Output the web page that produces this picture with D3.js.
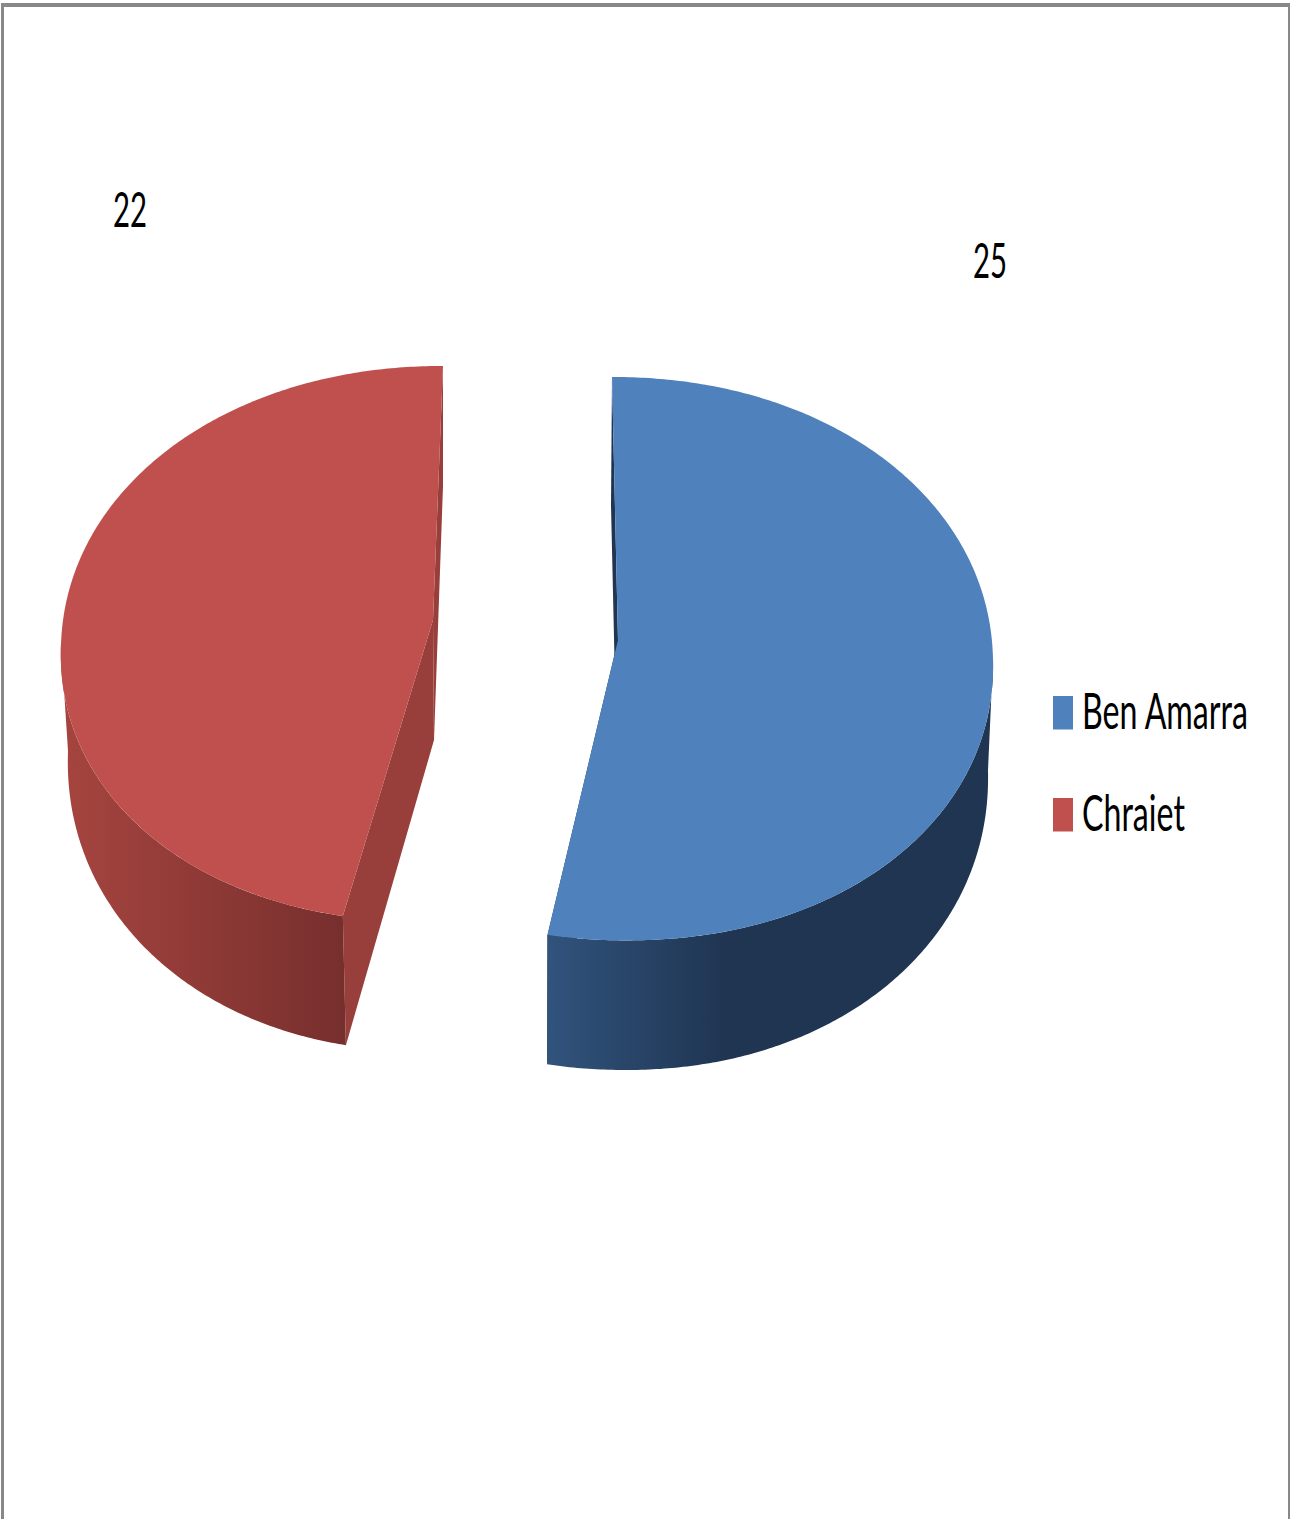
<!DOCTYPE html>
<html>
<head>
<meta charset="utf-8">
<script src="https://cdn.jsdelivr.net/npm/d3@7/dist/d3.min.js"></script>
<style>
  html, body { margin: 0; padding: 0; background: #fff; }
  svg { display: block; }
  text { font-family: Lato, "Liberation Sans", sans-serif; fill: #000; }
</style>
</head>
<body>
<svg id="chart" width="1290" height="1519"></svg>
<script>
// Values
const categories = ["Ben Amarra", "Chraiet"];
const values = [25, 22];

// Palette
const topColors = ["#4f81bd", "#c0504d"];
const sideColors = ["#1f3552", "#983e3b"];
const wallStops = [
  [[0, "#31537c"], [0.4, "#1f3552"], [1, "#1f3552"]],
  [[0, "#a5443f"], [1, "#772f2d"]]
];

// Each exploded slice has its own projected rim: upper face, lower face, and wedge tip.
// ryBack is the depth of the far half of a rim when it differs from the near half.
const rims = [
  { top: { cx: 619.2, cy: 658.7, rx: 373.8, ry: 281.7, ryBack: 281.7, shear: 7.2 },
    bottom: { cx: 618.1, cy: 770, rx: 369.9, ry: 300, ryBack: 265, shear: 7.1 },
    tipTop: [618, 640], tipBottom: [617, 770], wallX: [548, 990] },
  { top: { cx: 431.9, cy: 643.7, rx: 370.9, ry: 277.7, ryBack: 277.7, shear: -11.1 },
    bottom: { cx: 432.8, cy: 751, rx: 364.8, ry: 300, ryBack: 265, shear: -10.2 },
    tipTop: [433, 620], tipBottom: [434, 740], wallX: [68, 343] }
];
const rimPower = 0.965;

const svg = d3.select("#chart");
const defs = svg.append("defs");
const pie = d3.pie().sort(null).value(d => d);
const slices = pie(values);
const line = d3.line();
const polygon = pts => line(pts) + "Z";

// Point on a rim at a pie angle measured clockwise from the back of the disc.
function rimPoint(rim, angle) {
  const su = Math.sin(angle), sv = -Math.cos(angle);
  const u = Math.sign(su) * Math.pow(Math.abs(su), rimPower);
  const v = Math.sign(sv) * Math.pow(Math.abs(sv), rimPower);
  return [rim.cx + rim.rx * u + rim.shear * v, rim.cy + (v < 0 ? rim.ryBack : rim.ry) * v];
}
function rimArc(rim, a0, a1) {
  const n = Math.max(2, Math.ceil(Math.abs(a1 - a0) / 0.01));
  return d3.range(n + 1).map(i => rimPoint(rim, a0 + (a1 - a0) * i / n));
}

const g = svg.append("g");

slices.forEach((s, i) => {
  const rim = rims[i];
  const grad = defs.append("linearGradient")
    .attr("id", "wall" + i)
    .attr("gradientUnits", "userSpaceOnUse")
    .attr("x1", rim.wallX[0]).attr("x2", rim.wallX[1])
    .attr("y1", 0).attr("y2", 0);
  wallStops[i].forEach(st => grad.append("stop").attr("offset", st[0]).attr("stop-color", st[1]));

  const a0 = s.startAngle, a1 = s.endAngle;

  // Cut faces running from the tip out to each end of the slice
  [a0, a1].forEach(a => {
    g.append("path")
      .attr("d", polygon([rim.tipTop, rimPoint(rim.top, a), rimPoint(rim.bottom, a), rim.tipBottom]))
      .attr("fill", sideColors[i]);
  });

  // Curved outer wall along the front half of the disc
  const wa0 = Math.max(a0, Math.PI / 2), wa1 = Math.min(a1, 3 * Math.PI / 2);
  const upper = rimArc(rim.top, wa0, wa1);
  const lower = rimArc(rim.bottom, wa0, wa1).reverse();
  g.append("path")
    .attr("d", polygon(upper.concat(lower)))
    .attr("fill", `url(#wall${i})`);

  // Upper face
  g.append("path")
    .attr("d", polygon([rim.tipTop].concat(rimArc(rim.top, a0, a1))))
    .attr("fill", topColors[i]);
});

// Condensed text helper: the run is squeezed horizontally to a set width.
function label(txt, x, y, size, width) {
  const t = svg.append("text")
    .attr("font-size", size)
    .text(txt);
  const natural = t.node().getComputedTextLength();
  t.attr("transform", `translate(${x},${y}) scale(${width / natural},1)`);
}

// Value labels
const valuePos = [[973, 278, 34], [113, 227, 34]];
values.forEach((v, i) => label(String(v), valuePos[i][0], valuePos[i][1], 48, valuePos[i][2]));

// Legend
const legendY = d3.scalePoint().domain(categories).range([696, 798]);
const legendWidths = [166, 103];
categories.forEach((c, i) => {
  svg.append("rect")
    .attr("x", 1053).attr("y", legendY(c))
    .attr("width", 20).attr("height", 33.5)
    .attr("fill", topColors[i]);
  label(c, 1082, legendY(c) + 33, 50, legendWidths[i]);
});

// Chart frame: top and side edges
const frame = "#888888";
svg.append("rect").attr("x", 1).attr("y", 3).attr("width", 1289).attr("height", 4).attr("fill", frame);
svg.append("rect").attr("x", 1).attr("y", 3).attr("width", 3).attr("height", 1516).attr("fill", frame);
svg.append("rect").attr("x", 1288).attr("y", 3).attr("width", 2).attr("height", 1516).attr("fill", frame);
</script>
</body>
</html>
